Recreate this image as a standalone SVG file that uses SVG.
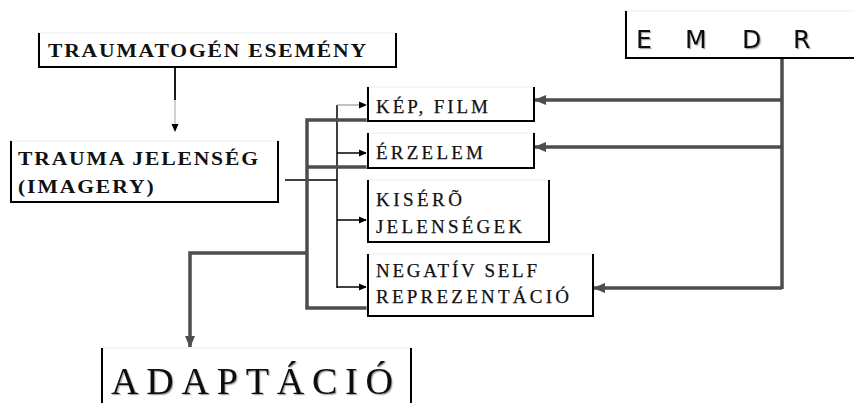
<svg xmlns="http://www.w3.org/2000/svg" width="854" height="403" viewBox="0 0 854 403">
  <style>
    .frame { fill: #ffffff; stroke: #eeeeee; stroke-width: 1; }
    .edge { fill: none; stroke: #000000; stroke-width: 2; }
    .lbl { font-family: "Liberation Serif", "Times New Roman", serif; fill: #111111; }
    .bold { font-weight: bold; font-size: 18px; }
    .reg { font-size: 19px; stroke: #111111; stroke-width: 0.25; }
    .thin { fill: none; stroke: #000000; stroke-width: 1.5; }
    .thick { fill: none; stroke: #4d4d4d; stroke-width: 3.5; }
  </style>
  <defs>
    <filter id="shade" x="-5%" y="-20%" width="110%" height="140%">
      <feDropShadow dx="1.2" dy="1.2" stdDeviation="0.6" flood-color="#000000" flood-opacity="0.35"/>
    </filter>
    <marker id="tipThin" markerUnits="userSpaceOnUse" markerWidth="8" markerHeight="8" viewBox="0 0 8 8" refX="7" refY="4" orient="auto">
      <path d="M0,0.5 L8,4 L0,7.5 Z" fill="#000000"/>
    </marker>
    <marker id="tipThick" markerUnits="userSpaceOnUse" markerWidth="12" markerHeight="10" viewBox="0 0 12 10" refX="11" refY="5" orient="auto">
      <path d="M0,0 L12,5 L0,10 Z" fill="#4d4d4d"/>
    </marker>
  </defs>

  <rect width="854" height="403" fill="#ffffff"/>

  <!-- connectors -->
  <g id="connectors">
    <!-- traumatogenic event down to trauma phenomenon -->
    <line x1="175" y1="67" x2="175" y2="100" stroke="#000000" stroke-width="1.8"/>
    <line x1="175" y1="100" x2="175" y2="131" stroke="#cccccc" stroke-width="1.8" marker-end="url(#tipThin)"/>

    <!-- trauma phenomenon fan-out -->
    <line class="thin" x1="285" y1="180" x2="337" y2="180"/>
    <line class="thin" x1="337" y1="105" x2="337" y2="288"/>
    <line x1="337" y1="105" x2="366" y2="105" stroke="#999999" stroke-width="1.2" marker-end="url(#tipThin)"/>
    <line class="thin" x1="337" y1="153" x2="366" y2="153" marker-end="url(#tipThin)"/>
    <line class="thin" x1="337" y1="220" x2="366" y2="220" marker-end="url(#tipThin)"/>
    <line class="thin" x1="337" y1="287" x2="366" y2="287" marker-end="url(#tipThin)"/>

    <!-- collection into adaptation -->
    <path class="thick" d="M367,120 H307 V308 H367"/>
    <line class="thick" x1="307" y1="167" x2="367" y2="167"/>
    <path class="thick" d="M307,253 H190 V347" marker-end="url(#tipThick)"/>

    <!-- EMDR feeding the components -->
    <line class="thick" x1="782" y1="58" x2="782" y2="289"/>
    <line class="thick" x1="782" y1="100" x2="535" y2="100" marker-end="url(#tipThick)"/>
    <line class="thick" x1="782" y1="147" x2="535" y2="147" marker-end="url(#tipThick)"/>
    <line class="thick" x1="782" y1="288" x2="594" y2="288" marker-end="url(#tipThick)"/>
  </g>

  <!-- nodes -->
  <g id="traumatogen">
    <rect class="frame" x="38" y="33" width="358" height="34"/>
    <path class="edge" d="M39,33 V67 H396 V33"/>
    <!-- bold headings are drawn slightly widened -->
    <text class="lbl bold" transform="translate(48,57) scale(1.2,1)" textLength="265" lengthAdjust="spacing">TRAUMATOGÉN ESEMÉNY</text>
  </g>

  <g id="trauma-jelenseg">
    <rect class="frame" x="10" y="141" width="268" height="61"/>
    <path class="edge" d="M11,141 V202 H278 V141"/>
    <text class="lbl bold" transform="translate(18,165) scale(1.2,1)" textLength="200" lengthAdjust="spacing">TRAUMA JELENSÉG</text>
    <text class="lbl bold" transform="translate(18,193) scale(1.2,1)" textLength="113" lengthAdjust="spacing">(IMAGERY)</text>
  </g>

  <g id="kep-film">
    <rect class="frame" x="367" y="87" width="167" height="34"/>
    <path class="edge" d="M368,87 V121 H534 V87"/>
    <text class="lbl reg" x="376" y="113" textLength="112" lengthAdjust="spacing">KÉP, FILM</text>
  </g>

  <g id="erzelem">
    <rect class="frame" x="367" y="133" width="167" height="35"/>
    <path class="edge" d="M368,133 V168 H534 V133"/>
    <text class="lbl reg" x="376" y="159" textLength="107" lengthAdjust="spacing">ÉRZELEM</text>
  </g>

  <g id="kisero">
    <rect class="frame" x="367" y="180" width="182" height="62"/>
    <path class="edge" d="M368,180 V242 H549 V180"/>
    <text class="lbl reg" x="376" y="206" textLength="86" lengthAdjust="spacing">KISÉRÕ</text>
    <text class="lbl reg" x="376" y="233" textLength="146" lengthAdjust="spacing">JELENSÉGEK</text>
  </g>

  <g id="negativ-self">
    <rect class="frame" x="367" y="254" width="226" height="62"/>
    <path class="edge" d="M368,254 V316 H593 V254"/>
    <text class="lbl reg" x="376" y="277" textLength="161" lengthAdjust="spacing">NEGATÍV SELF</text>
    <text class="lbl reg" x="376" y="303" textLength="193" lengthAdjust="spacing">REPREZENTÁCIÓ</text>
  </g>

  <g id="emdr">
    <rect class="frame" x="625" y="11" width="240" height="47"/>
    <path class="edge" d="M626,11 V58 H854"/>
    <g font-family="DejaVu Sans, Verdana, sans-serif" font-size="25" fill="#111111" filter="url(#shade)">
      <text x="636" y="48">E</text>
      <text x="685" y="48">M</text>
      <text x="742" y="48">D</text>
      <text x="793" y="48">R</text>
    </g>
  </g>

  <g id="adaptacio">
    <rect class="frame" x="101" y="348" width="310" height="60"/>
    <path class="edge" d="M102,348 V403 M411,348 V403"/>
    <text class="lbl" x="111" y="394" font-size="38" textLength="282" lengthAdjust="spacing" filter="url(#shade)">ADAPTÁCIÓ</text>
  </g>
</svg>
